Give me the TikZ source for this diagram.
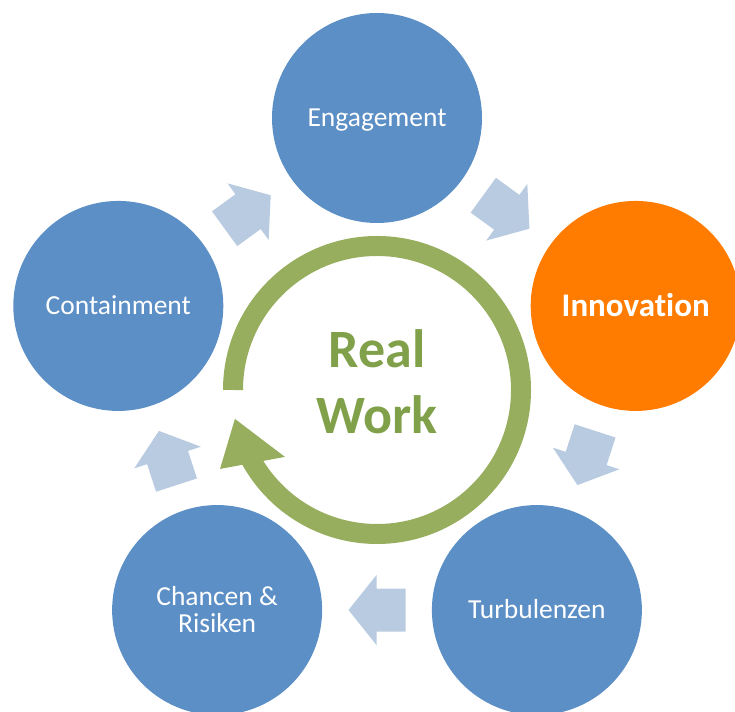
\documentclass[tikz,border=0pt]{standalone}
\usepackage{fontspec}
\setmainfont{Carlito}[Ligatures=CommonOff]
\usetikzlibrary{calc}
\definecolor{stageblue}{RGB}{91,143,197}
\definecolor{hotorange}{RGB}{255,124,0}
\definecolor{flowblue}{RGB}{185,203,225}
\definecolor{ringgreen}{RGB}{151,174,94}
\definecolor{workgreen}{RGB}{128,160,73}
\begin{document}
\begin{tikzpicture}[x=1pt, y=1pt,
        stage/.style={circle, fill=stageblue, minimum size=210pt, inner sep=0pt,
            text=white, align=center, font=\fontsize{27.5}{27}\selectfont,
            text height=17.7pt, text depth=0pt},
        twoline/.style={stage, text height=44.7pt},
        hot/.style={stage, fill=hotorange, font=\fontsize{33}{40}\selectfont\bfseries,
            text height=21.3pt},
        flow/.style={fill=flowblue},
        ring/.style={draw=ringgreen, line width=20pt}]
    \useasboundingbox (0,0) rectangle (735,711);
    \clip (0,0) rectangle (735,711);
    \coordinate (o) at (377,321);

    % five stages around the cycle
    \foreach \t/\name/\kind/\txt in {90/eng/stage/Engagement, 18/inno/hot/Innovation,
            -54/turb/stage/Turbulenzen, -126/chan/twoline/{Chancen \&\\Risiken},
            162/cont/stage/Containment} {
            \node[\kind] (\name) at ($(o)+(\t:272)$) {\txt};
        }

    % block arrows between neighbours
    \foreach \a/\b/\t in {eng/inno/54, inno/turb/-18, turb/chan/-90, chan/cont/-162, cont/eng/126} {
            \begin{scope}[shift={($(\a)!0.5!(\b)$)}, rotate=\t-90]
                \fill[flow] (-28.5,-21.5) -- (0.5,-21.5) -- (0.5,-35) -- (28.5,0)
                    -- (0.5,35) -- (0.5,21.5) -- (-28.5,21.5) -- cycle;
            \end{scope}
        }

    % the cycle in the middle
    \draw[ring] ($(o)+(180:144)$) arc[start angle=180, end angle=-152, radius=144];
    \fill[ringgreen] ($(o)+(191.5:145)$) -- ($(o)+(206.7:175.7)$) -- ($(o)+(216:113.8)$) -- cycle;
    \node[text=workgreen, align=center, font=\fontsize{54}{66}\selectfont\bfseries] (rw) at (377,329.5) {Real\\Work};
\end{tikzpicture}
\end{document}
